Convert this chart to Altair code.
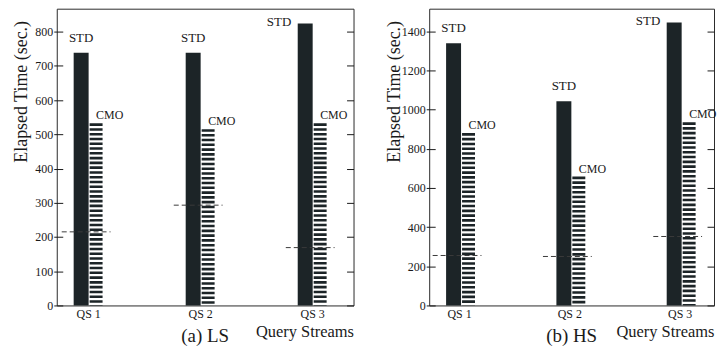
import altair as alt
import pandas as pd

streams = ["QS 1", "QS 2", "QS 3"]
series = ["STD", "CMO"]

ls_std = [738, 738, 824]
ls_cmo = [532, 515, 532]
ls_dash = [215, 293, 169]
ls_ticks = [0, 100, 200, 300, 400, 500, 600, 700, 800]
ls_ymax = 867

hs_std = [1338, 1042, 1445]
hs_cmo = [880, 658, 935]
hs_dash = [255, 250, 352]
hs_ticks = [0, 200, 400, 600, 800, 1000, 1200, 1400]
hs_ymax = 1515

FONT = "Liberation Serif"
INK = "#1c2427"
TXT = "#1a1a1a"


def panel(std, cmo, dash, ticks, ymax, caption, width, pi, po, align, tall_frac):
    df = pd.DataFrame({
        "qs": streams * 2,
        "series": ["STD"] * 3 + ["CMO"] * 3,
        "value": std + cmo,
    })
    dd = pd.DataFrame({"qs": streams, "value": dash})

    xaxis = alt.Axis(title="Query Streams", ticks=False, domain=False, labelAngle=0,
                     labelFont=FONT, labelFontSize=12, labelColor=TXT, labelPadding=3,
                     titleFont=FONT, titleFontSize=16.5, titleFontWeight="normal",
                     titleColor=TXT, titleAnchor="end", titlePadding=4)
    xscale = alt.Scale(domain=streams, paddingInner=pi, paddingOuter=po, align=align)
    x = alt.X("qs:N", scale=xscale, sort=streams, axis=xaxis)
    xo = alt.XOffset("series:N", sort=series,
                     scale=alt.Scale(domain=series, paddingInner=0, paddingOuter=0))
    yscale = alt.Scale(domain=[0, ymax], nice=False, zero=True)

    left_axis = alt.Axis(values=ticks, format="d", grid=False, domain=False, offset=-6,
                         tickSize=9, tickColor=TXT, labelFont=FONT, labelFontSize=12,
                         labelColor=TXT, labelPadding=1, title="Elapsed Time (sec.)",
                         titleFont=FONT, titleFontSize=18, titleFontWeight="normal",
                         titleColor=TXT, titleAngle=-90, titleAlign="center",
                         titleBaseline="middle", titleX=-41, titleY=83)
    right_axis = alt.Axis(values=ticks, orient="right", grid=False, domain=False,
                          labels=False, offset=-7, tickSize=7, tickColor=TXT, title=None)

    base = alt.Chart(df)
    std_bar = base.transform_filter("datum.series == 'STD'").mark_bar(color=INK).encode(
        x=x, xOffset=xo, y=alt.Y("value:Q", scale=yscale, axis=left_axis))
    cmo_bar = base.transform_filter("datum.series == 'CMO'").transform_calculate(
        zero="0").mark_rule(color=INK, strokeWidth=13, strokeDash=[2.6, 2.2],
                             strokeCap="butt").encode(
        x=x, xOffset=xo, y=alt.Y("value:Q", scale=yscale, axis=right_axis),
        y2=alt.Y2("zero:Q"))
    dashes = alt.Chart(dd).mark_rule(color="#3a3a3a", strokeWidth=1, strokeDash=[5, 3],
                                     xOffset=-27, x2Offset=22).encode(
        x=alt.X("qs:N", scale=xscale, sort=streams, axis=xaxis, bandPosition=0.5),
        x2=alt.X2("qs", bandPosition=0.5),
        y=alt.Y("value:Q", scale=yscale, axis=None))
    limit = tall_frac * ymax
    std_top = base.transform_filter(
        f"datum.series == 'STD' && datum.value < {limit}").mark_text(
        font=FONT, fontSize=13, color=TXT, align="center", baseline="alphabetic",
        dy=-11).encode(x=x, xOffset=xo, y=alt.Y("value:Q", scale=yscale, axis=None),
                       text="series:N")
    std_side = base.transform_filter(
        f"datum.series == 'STD' && datum.value >= {limit}").mark_text(
        font=FONT, fontSize=13, color=TXT, align="right", baseline="alphabetic",
        dx=-14, dy=3).encode(x=x, xOffset=xo, y=alt.Y("value:Q", scale=yscale, axis=None),
                             text="series:N")
    cmo_txt = base.transform_filter("datum.series == 'CMO'").mark_text(
        font=FONT, fontSize=12, color=TXT, align="left", baseline="alphabetic",
        dy=-4).encode(x=x, xOffset=xo, y=alt.Y("value:Q", scale=yscale, axis=None),
                      text="series:N")

    return alt.layer(std_bar, cmo_bar, dashes, std_top, std_side, cmo_txt).resolve_axis(
        y="independent").properties(
        width=width, height=298,
        title=alt.TitleParams(caption, orient="bottom", anchor="middle", font=FONT,
                              fontSize=19, fontWeight="normal", color=TXT, offset=0,
                              dy=-13))


left = panel(ls_std, ls_cmo, ls_dash, ls_ticks, ls_ymax, "(a) LS", 298,
             0.733, 0.191, 0.395, 0.9)
right = panel(hs_std, hs_cmo, hs_dash, hs_ticks, hs_ymax, "(b) HS", 286,
              0.756, 0.169, 0.453, 0.9)

chart = alt.hconcat(left, right, spacing=30).properties(
    padding={"left": 12, "top": 7, "right": 0, "bottom": 0},
    background="white",
).configure_view(stroke="#2a2a2a", strokeWidth=1)

chart.save("out.html", embed_options={"renderer": "svg", "actions": False})
